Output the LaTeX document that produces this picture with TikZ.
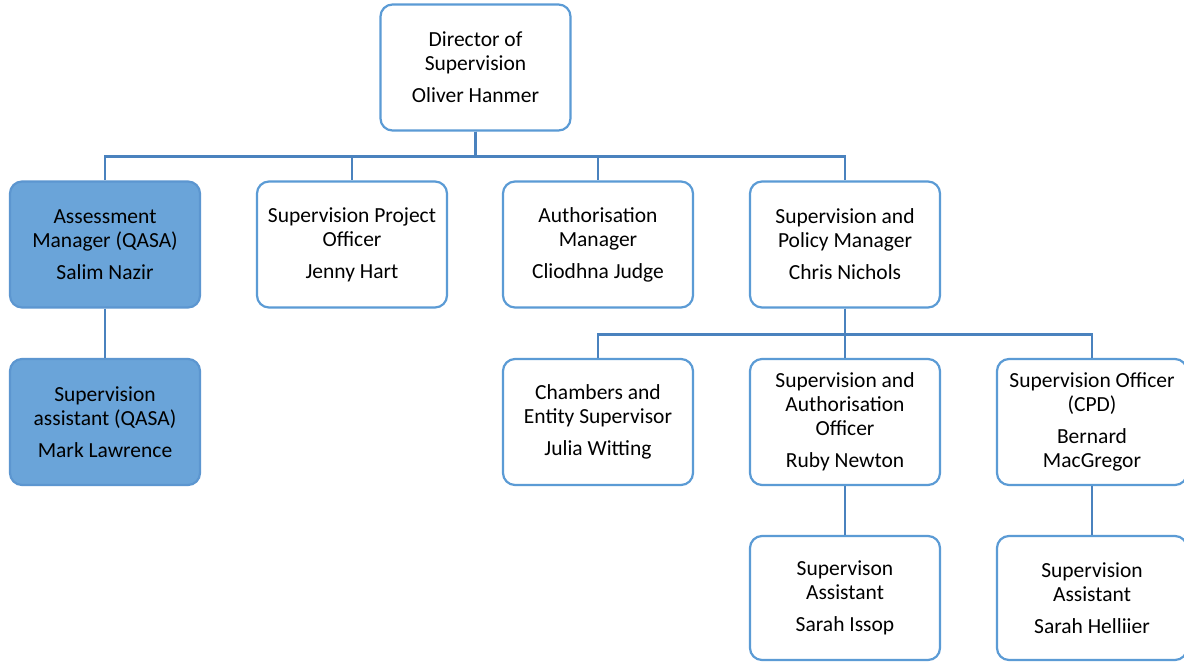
\documentclass[tikz,border=0pt]{standalone}
\usepackage{fontspec}
\setmainfont{Carlito}
\definecolor{boxline}{RGB}{91,155,213}
\definecolor{conline}{RGB}{74,130,190}
\definecolor{boxfill}{RGB}{106,164,217}
\definecolor{fillline}{RGB}{92,150,208}
\begin{document}
\begin{tikzpicture}[x=1pt,y=-1pt,
  person/.style={draw=boxline, line width=2.2pt, fill=white, rounded corners=12pt,
    minimum width=190pt, minimum height=126pt, inner sep=0pt, align=center,
    font=\fontsize{21.5}{24}\selectfont, text=black},
  shaded/.style={person, fill=boxfill, draw=fillline},
  link/.style={draw=conline, line width=2.6pt}]
\useasboundingbox (0,0) rectangle (1184,662);
\fill[white] (0,0) rectangle (1184,662);
% nodes
\node[person] (dir) at (475.5,67.5) {Director of\\Supervision\\[8pt]Oliver Hanmer};
\node[shaded] (am) at (105,244.5) {Assessment\\Manager (QASA)\\[8pt]Salim Nazir};
\node[person] (spo) at (352,244.5) {Supervision Project\\Officer\\[8pt]Jenny Hart};
\node[person] (auth) at (598,244.5) {Authorisation\\Manager\\[8pt]Cliodhna Judge};
\node[person] (spm) at (845,244.5) {Supervision and\\Policy Manager\\[8pt]Chris Nichols};
\node[shaded] (sa) at (105,422) {Supervision\\assistant (QASA)\\[8pt]Mark Lawrence};
\node[person] (ces) at (598,422) {Chambers and\\Entity Supervisor\\[8pt]Julia Witting};
\node[person] (sao) at (845,422) {Supervision and\\Authorisation\\Officer\\[8pt]Ruby Newton};
\node[person] (soc) at (1092,422) {Supervision Officer\\(CPD)\\[8pt]Bernard\\MacGregor};
\node[person, minimum height=124pt] (sai) at (845,598) {Supervison\\Assistant\\[8pt]Sarah Issop};
\node[person, minimum height=124pt] (sah) at (1092,598) {Supervision\\Assistant\\[8pt]Sarah Helliier};
% connectors
\foreach \c in {am,spo,auth,spm}
  \draw[link] (dir.south) -- ++(0,25) -| (\c.north);
\foreach \c in {ces,sao,soc}
  \draw[link] (spm.south) -- ++(0,26) -| (\c.north);
\draw[link] (am.south) -- (sa.north);
\draw[link] (sao.south) -- (sai.north);
\draw[link] (soc.south) -- (sah.north);
\end{tikzpicture}
\end{document}
